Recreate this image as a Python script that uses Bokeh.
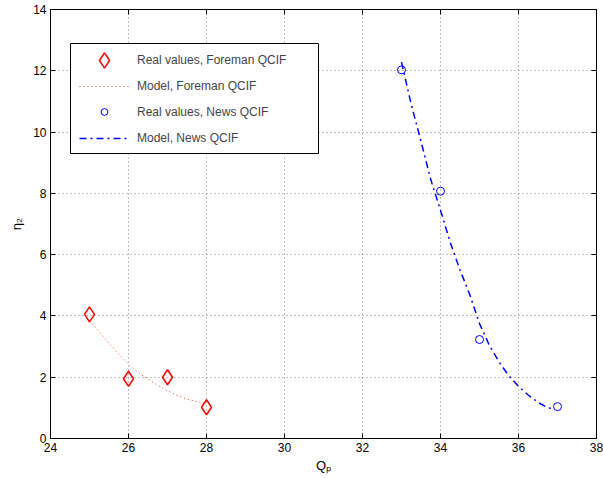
from bokeh.embed import file_html
from bokeh.models import BoxAnnotation, FixedTicker, Legend, LegendItem, LinearAxis, Range1d
from bokeh.plotting import figure
from bokeh.resources import INLINE

# Measured values (Q_p, eta_2)
foreman_qp = [25, 26, 27, 28]
foreman_eta = [4.05, 1.95, 2.0, 1.02]
news_qp = [33, 34, 35, 37]
news_eta = [12.03, 8.07, 3.23, 1.04]

# Fitted model curves
foreman_model_qp = [25.0, 25.25, 25.5, 25.75, 26.0, 26.25, 26.5, 26.75, 27.0, 27.25, 27.5, 27.75, 28.0]
foreman_model_eta = [3.85, 3.48, 3.11, 2.75, 2.42, 2.15, 1.93, 1.74, 1.56, 1.40, 1.29, 1.20, 1.15]
news_model_qp = [33.0, 33.25, 33.5, 33.75, 34.0, 34.25, 34.5, 34.75, 35.0, 35.25, 35.5, 35.75,
                 36.0, 36.25, 36.5, 36.75, 36.9]
news_model_eta = [12.28, 10.9, 9.7, 8.45, 7.45, 6.4, 5.5, 4.7, 3.75, 3.05, 2.5, 2.05,
                  1.7, 1.42, 1.18, 1.0, 0.97]

x_ticks = [24, 26, 28, 30, 32, 34, 36, 38]
y_ticks = [0, 2, 4, 6, 8, 10, 12, 14]

FONT = "Liberation Sans"

p = figure(
    frame_width=546, frame_height=429,
    x_range=Range1d(24, 38), y_range=Range1d(0, 14),
    output_backend="svg", toolbar_location=None,
    min_border_left=50, min_border_right=7, min_border_top=9, min_border_bottom=40,
    background_fill_color="white", border_fill_color="white",
)
p.outline_line_color = "black"
p.outline_line_width = 1

for ax in (p.xaxis[0], p.yaxis[0]):
    ax.axis_line_color = "black"
    ax.major_tick_in = 5
    ax.major_tick_out = 0
    ax.minor_tick_in = 0
    ax.minor_tick_out = 0
    ax.major_label_text_font = FONT
    ax.major_label_text_font_size = "12px"
    ax.major_label_text_color = "black"
    ax.major_label_standoff = 4
    ax.axis_label_text_font = FONT
    ax.axis_label_text_font_size = "13px"
    ax.axis_label_text_font_style = "normal"
    ax.axis_label_text_color = "black"
p.xaxis.ticker = FixedTicker(ticks=x_ticks)
p.yaxis.ticker = FixedTicker(ticks=y_ticks)
p.xaxis.axis_label = "Qₚ"
p.xaxis.axis_label_standoff = 3
p.yaxis.axis_label = "η₂"
p.yaxis.axis_label_standoff = 6

# Tick marks (no numbers) on the top and right edges of the box
for side, ticks in (("above", x_ticks), ("right", y_ticks)):
    ax = LinearAxis(ticker=FixedTicker(ticks=ticks))
    ax.major_label_overrides = {t: "" for t in ticks}
    ax.major_label_standoff = 0
    ax.major_tick_in = 5
    ax.major_tick_out = 0
    ax.minor_tick_in = 0
    ax.minor_tick_out = 0
    ax.axis_line_color = "black"
    p.add_layout(ax, side)

for g in (p.xgrid[0], p.ygrid[0]):
    g.grid_line_color = "#555555"
    g.grid_line_dash = "1 3"
    g.grid_line_width = 1
    g.grid_line_alpha = 0.75

foreman_model = p.line(foreman_model_qp, foreman_model_eta, line_color="red",
                       line_dash="1 3", line_width=1, line_alpha=0.8)
news_model = p.line(news_model_qp, news_model_eta, line_color="blue",
                    line_dash="7 4 2 4", line_width=1.5)
foreman_pts = p.scatter(foreman_qp, foreman_eta, marker="diamond", size=15,
                        line_color="red", fill_color=None, line_width=1.5)
news_pts = p.scatter(news_qp, news_eta, marker="circle", size=8,
                     line_color="blue", fill_color=None, line_width=1)

# Legend: a white bordered box holding one row per series
p.add_layout(BoxAnnotation(left=24.513, right=30.872, bottom=9.30, top=12.89,
                           fill_color="white", fill_alpha=1,
                           line_color="black", line_width=1, line_alpha=1))

rows = [
    ("Real values, Foreman QCIF", foreman_pts, 38, 359),
    ("Model, Foreman QCIF", foreman_model, 16, 344),
    ("Real values, News QCIF", news_pts, 17, 318),
    ("Model, News QCIF", news_model, 16, 292),
]
for label, renderer, gh, ybot in rows:
    p.add_layout(Legend(
        items=[LegendItem(label=label, renderers=[renderer])],
        location=(29, ybot),
        padding=0, spacing=0, margin=0,
        glyph_width=50, glyph_height=gh, label_height=gh, label_width=170,
        label_standoff=8,
        label_text_font=FONT, label_text_font_size="12px",
        border_line_color=None, background_fill_alpha=0,
    ), "center")

open("out.html", "w").write(file_html(p, INLINE))
